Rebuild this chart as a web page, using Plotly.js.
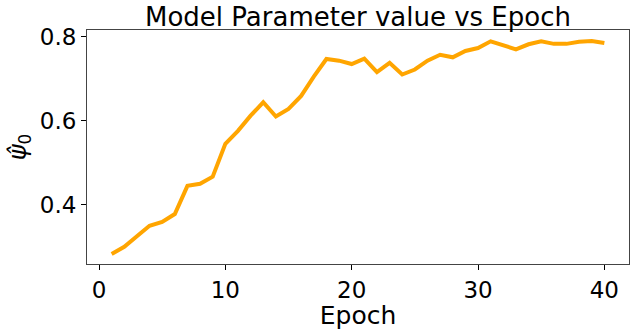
<!DOCTYPE html>
<html>
<head>
<meta charset="utf-8">
<script src="https://cdn.plot.ly/plotly-3.0.1.min.js"></script>
<style>
  html, body { margin: 0; padding: 0; background: #fff; }
  #chart { width: 634px; height: 330px; }
</style>
</head>
<body>
<div id="chart"></div>
<script>
// epochs 1..40
var epochs = [1, 2, 3, 4, 5, 6, 7, 8, 9, 10,
  11, 12, 13, 14, 15, 16, 17, 18, 19, 20,
  21, 22, 23, 24, 25, 26, 27, 28, 29, 30,
  31, 32, 33, 34, 35, 36, 37, 38, 39, 40];

// estimated psi_0 per epoch
var psi0 = [0.283, 0.300, 0.325, 0.350, 0.359, 0.378, 0.445, 0.450, 0.467, 0.545,
  0.576, 0.612, 0.644, 0.610, 0.628, 0.659, 0.705, 0.747, 0.743, 0.735,
  0.748, 0.716, 0.738, 0.710, 0.722, 0.743, 0.757, 0.751, 0.766, 0.773,
  0.789, 0.780, 0.770, 0.782, 0.789, 0.783, 0.783, 0.788, 0.790, 0.785];

var xTicks = [0, 10, 20, 30, 40];
var yTicks = [0.4, 0.6, 0.8];

var font = 'DejaVu Sans, sans-serif';

var trace = {
  x: epochs,
  y: psi0,
  type: 'scatter',
  mode: 'lines',
  line: {color: '#FFA500', width: 4},
  hoverinfo: 'skip'
};

var layout = {
  width: 634,
  height: 330,
  margin: {l: 87, r: 5, t: 30, b: 66},
  paper_bgcolor: '#fff',
  plot_bgcolor: '#fff',
  showlegend: false,
  font: {family: font, color: '#000'},
  title: {
    text: 'Model Parameter value vs Epoch',
    font: {family: font, size: 26, color: '#000'},
    x: 0.5, xref: 'paper', xanchor: 'center',
    y: 1, yref: 'paper', yanchor: 'bottom', pad: {b: 4}
  },
  xaxis: {
    range: [-0.95, 41.95],
    tickvals: xTicks,
    ticktext: xTicks.map(String),
    ticks: 'outside', ticklen: 5, tickwidth: 1, tickcolor: '#000',
    showline: true, mirror: true, linecolor: '#444', linewidth: 1,
    showgrid: false, zeroline: false,
    tickfont: {family: font, size: 23, color: '#000'},
    title: {text: 'Epoch', font: {family: font, size: 25, color: '#000'}, standoff: 7}
  },
  yaxis: {
    range: [0.259, 0.816],
    tickvals: yTicks,
    ticktext: yTicks.map(function (v) { return v.toFixed(1); }),
    ticks: 'outside', ticklen: 5, tickwidth: 1, tickcolor: '#000',
    showline: true, mirror: true, linecolor: '#444', linewidth: 1,
    showgrid: false, zeroline: false,
    tickfont: {family: font, size: 23, color: '#000'},
    title: {text: '<i>ψ̂</i><sub>0</sub>', font: {family: font, size: 24, color: '#000'}, standoff: 6}
  }
};

Plotly.newPlot('chart', [trace], layout, {displayModeBar: false, staticPlot: true});
</script>
</body>
</html>
